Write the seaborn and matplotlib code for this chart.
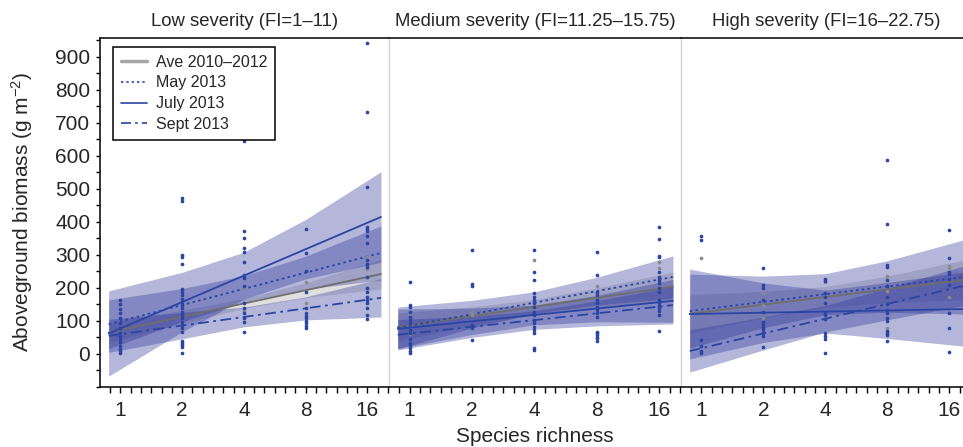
import numpy as np
import pandas as pd
import matplotlib
matplotlib.use("Agg")
import matplotlib.pyplot as plt
from matplotlib.lines import Line2D
from matplotlib.ticker import MultipleLocator, FixedLocator
import seaborn as sns

# ---------------- data ----------------
RICHNESS = [1, 2, 4, 8, 16]
X_TICK_LABELS = ["1", "2", "4", "8", "16"]
Y_TICKS = [0, 100, 200, 300, 400, 500, 600, 700, 800, 900]
SERIES = ["Ave 2010\u20132012", "May 2013", "July 2013", "Sept 2013"]
PANEL_TITLES = ["Low severity (FI=1\u201311)",
                "Medium severity (FI=11.25\u201315.75)",
                "High severity (FI=16\u201322.75)"]

# log2(richness) positions where the fitted lines / bands were read
BAND_X = [-0.19, 1.0, 2.0, 3.0, 4.22]

# fitted values at the first and last BAND_X (order: Ave, May, July, Sept)
LOW_FIT_START = [65, 90, 62, 55]
LOW_FIT_END = [242, 306, 415, 170]
LOW_HALFWIDTH = [[30, 20, 15, 22, 45],
                 [74, 50, 40, 50, 82],
                 [129, 90, 71, 90, 137],
                 [50, 40, 30, 35, 58]]

MED_FIT_START = [82, 79, 76, 58]
MED_FIT_END = [204, 233, 161, 148]
MED_HALFWIDTH = [[42, 28, 22, 30, 44],
                 [63, 42, 33, 42, 64],
                 [60, 40, 30, 40, 65],
                 [46, 32, 28, 38, 57]]

HIGH_FIT_START = [122, 130, 121, 9]
HIGH_FIT_END = [224, 233, 136, 206]
HIGH_HALFWIDTH = [[58, 40, 32, 40, 60],
                  [112, 78, 62, 78, 112],
                  [136, 90, 65, 85, 112],
                  [64, 50, 40, 48, 60]]

# observed plot biomass (blue = 2013 surveys, gray = 2010-2012 average)
LOW_BLUE = {
    1: [165, 150, 137, 123, 108, 95, 80, 65, 55, 45, 35, 25, 15, 8, 3],
    2: [472, 464, 300, 295, 272, 196, 188, 178, 168, 158, 148, 138, 128, 118,
        108, 98, 88, 78, 68, 38, 32, 27, 22, 4],
    4: [644, 371, 350, 320, 308, 278, 240, 230, 205, 153, 138, 123, 108, 98, 68],
    8: [380, 307, 252, 189, 138, 123, 115, 108, 101, 93, 86, 78],
    16: [941, 732, 507, 386, 378, 371, 357, 335, 285, 273, 263, 232, 199, 189,
         174, 164, 153, 138, 118, 105],
}
LOW_GRAY = {1: [60, 45], 2: [95, 75], 4: [200, 130], 8: [218, 155], 16: [295, 257]}

MED_BLUE = {
    1: [217, 148, 141, 128, 113, 103, 93, 73, 63, 44, 34, 27, 17, 10, 4],
    2: [316, 212, 206, 88, 78, 42],
    4: [316, 249, 224, 184, 174, 164, 153, 143, 128, 118, 103, 93, 83, 73, 63, 17, 11],
    8: [310, 240, 189, 179, 164, 153, 143, 134, 123, 113, 68, 63, 57, 48, 40],
    16: [384, 347, 297, 293, 249, 234, 224, 214, 200, 188, 164, 153, 145, 138,
         131, 118, 70],
}
MED_GRAY = {1: [120, 60], 2: [128, 118], 4: [285, 140], 8: [206, 50], 16: [280, 260]}

HIGH_BLUE = {
    1: [356, 345, 42, 24, 8, 2],
    2: [261, 209, 199, 164, 128, 98, 91, 83, 75, 68, 63, 55, 22],
    4: [227, 221, 184, 174, 153, 123, 118, 105, 65, 53, 44, 2],
    8: [588, 394, 270, 264, 224, 206, 172, 150, 134, 125, 108, 101, 70, 64, 57, 40],
    16: [375, 290, 249, 242, 226, 210, 123, 78, 5],
}
HIGH_GRAY = {1: [290], 2: [186, 148, 108], 4: [219, 169], 8: [236, 190, 78], 16: [265, 260, 172]}

# ---------------- style ----------------
sns.set_style("white")
plt.rcParams["font.family"] = ["Liberation Sans", "DejaVu Sans"]
plt.rcParams["mathtext.fontset"] = "custom"
plt.rcParams["mathtext.rm"] = "Liberation Sans"
plt.rcParams["mathtext.it"] = "Liberation Sans:italic"

BLUE = "#2b45a3"
BAND_BLUE = (40 / 255, 50 / 255, 150 / 255)
GRAY_LINE = "#6e6e6e"
GRAY_PT = "#8a8a8a"
LINESTYLES = ["-", (0, (1.4, 1.8)), "-", (0, (6, 2.5, 1.5, 2.5))]
LINECOLORS = [GRAY_LINE, BLUE, BLUE, BLUE]

W, H = 963, 447
fig = plt.figure(figsize=(W / 100, H / 100), dpi=100)
panel_px = [(100, 289), (389, 292), (681, 290)]
ax_bottom, ax_top = 387, 38

panels = [
    (LOW_FIT_START, LOW_FIT_END, LOW_HALFWIDTH, LOW_BLUE, LOW_GRAY),
    (MED_FIT_START, MED_FIT_END, MED_HALFWIDTH, MED_BLUE, MED_GRAY),
    (HIGH_FIT_START, HIGH_FIT_END, HIGH_HALFWIDTH, HIGH_BLUE, HIGH_GRAY),
]


def to_frame(d):
    rows = [(np.log2(r), v) for r, vals in d.items() for v in vals]
    return pd.DataFrame(rows, columns=["x", "y"])


axes = []
for i, ((start, end, hw, blue, gray), (lpx, wpx)) in enumerate(zip(panels, panel_px)):
    ax = fig.add_axes([lpx / W, (H - ax_bottom) / H, wpx / W, (ax_bottom - ax_top) / H])
    axes.append(ax)
    bx = np.array(BAND_X)
    # confidence bands
    for k in range(4):
        line = np.interp(bx, [bx[0], bx[-1]], [start[k], end[k]])
        h = np.array(hw[k])
        if k == 0:
            ax.fill_between(bx, line - h, line + h, color=(0.55, 0.55, 0.55),
                            alpha=0.28, lw=0, zorder=1)
        else:
            ax.fill_between(bx, line - h, line + h, color=BAND_BLUE,
                            alpha=0.35, lw=0, zorder=1)
    # fitted lines
    for k in range(4):
        sns.lineplot(x=[bx[0], bx[-1]], y=[start[k], end[k]], ax=ax,
                     color=LINECOLORS[k], lw=1.3, linestyle=LINESTYLES[k], zorder=3)
    # observations
    sns.scatterplot(data=to_frame(gray), x="x", y="y", ax=ax, color=GRAY_PT,
                    s=7, linewidth=0, legend=False, zorder=4)
    sns.scatterplot(data=to_frame(blue), x="x", y="y", ax=ax, color=BLUE,
                    s=7, linewidth=0, legend=False, zorder=5)

    ax.set_xlim(-0.33, 4.35)
    ax.set_ylim(-100, 957)
    ax.set_xlabel("")
    ax.set_ylabel("")
    ax.xaxis.set_major_locator(FixedLocator(np.log2(RICHNESS)))
    ax.set_xticklabels(X_TICK_LABELS)
    ax.xaxis.set_minor_locator(MultipleLocator(1 / 6))
    ax.tick_params(axis="x", which="both", direction="out", length=4, width=1,
                   color="black", labelsize=15, pad=6, bottom=True)
    for side in ["top", "bottom"]:
        ax.spines[side].set_color("black")
        ax.spines[side].set_linewidth(1.1)
    ax.spines["right"].set_visible(False)
    if i == 0:
        ax.spines["left"].set_color("black")
        ax.spines["left"].set_linewidth(1.1)
        ax.yaxis.set_major_locator(FixedLocator(Y_TICKS))
        ax.yaxis.set_minor_locator(MultipleLocator(50))
        ax.tick_params(axis="y", which="both", direction="out", length=3, width=1,
                       color="black", labelsize=15, pad=4, left=True)
    else:
        ax.spines["left"].set_color("#d4d4d4")
        ax.spines["left"].set_linewidth(1.0)
        ax.set_yticks([])
    ax.set_title(PANEL_TITLES[i], fontsize=13.3, pad=9)

# legend
handles = [Line2D([], [], color="#a6a6a6", lw=2.5, linestyle="-"),
           Line2D([], [], color=BLUE, lw=1.2, linestyle=LINESTYLES[1]),
           Line2D([], [], color=BLUE, lw=1.2, linestyle="-"),
           Line2D([], [], color=BLUE, lw=1.2, linestyle=LINESTYLES[3])]
leg = axes[0].legend(handles, SERIES, loc="upper left",
                     bbox_to_anchor=(0.045, 0.975), fontsize=11.5, frameon=True,
                     fancybox=False, edgecolor="black", framealpha=1,
                     handlelength=1.6, handletextpad=0.6, labelspacing=0.36,
                     borderpad=0.5, borderaxespad=0)
leg.get_frame().set_linewidth(1.1)

fig.text(22 / W, 1 - 212 / H, "Aboveground biomass (g m$^{-2}$)", rotation=90,
         ha="center", va="center", fontsize=15)
fig.text(535 / W, 1 - 437 / H, "Species richness", ha="center", va="center",
         fontsize=15)

fig.savefig("out.png", dpi=100)
